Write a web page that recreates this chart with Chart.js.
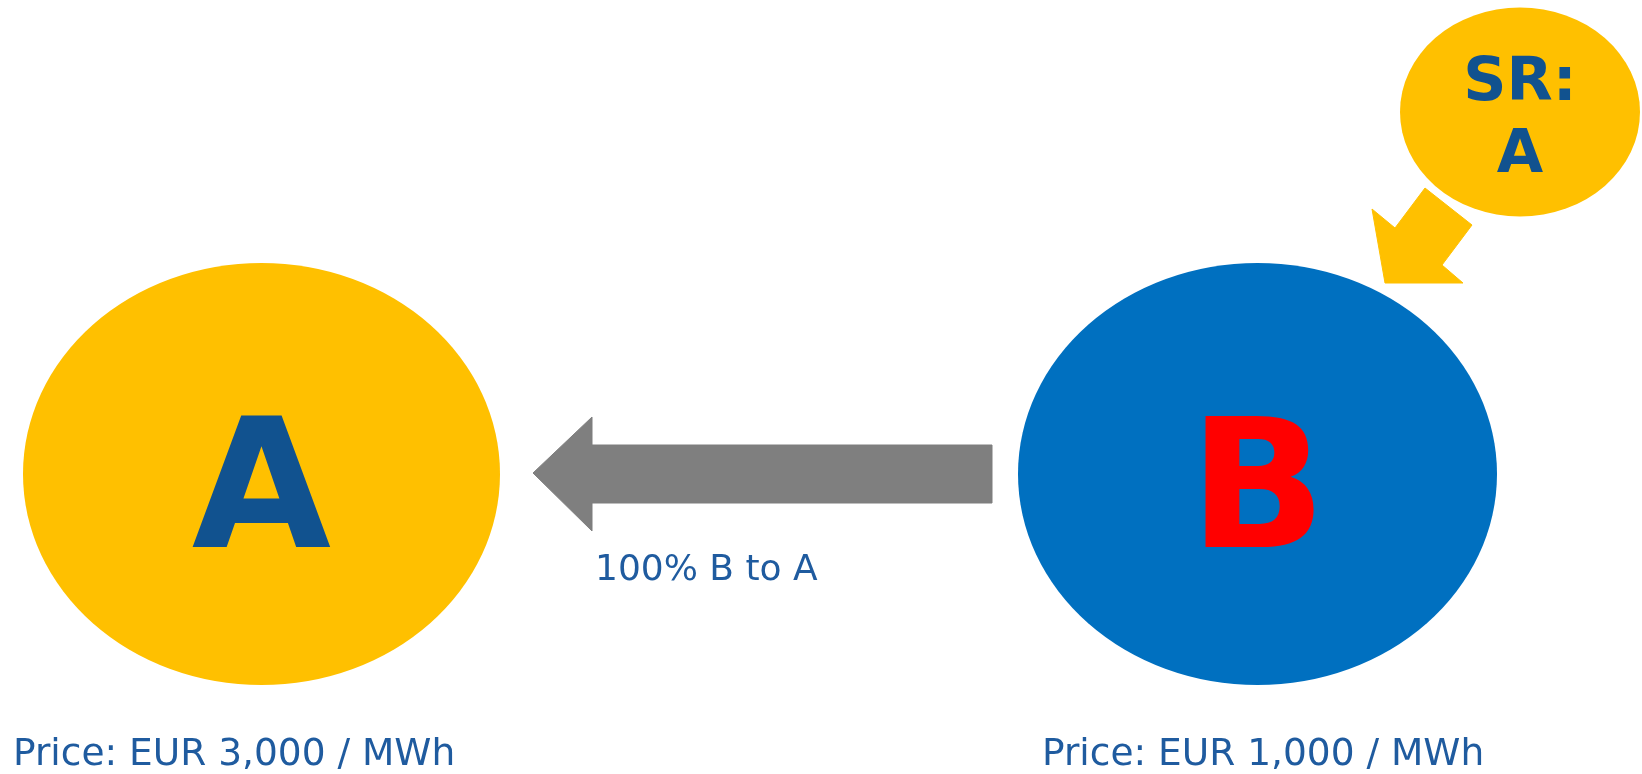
<!DOCTYPE html>
<html>
<head>
<meta charset="utf-8">
<title>SR: A</title>
<script src="https://cdn.jsdelivr.net/npm/chart.js@4.4.1/dist/chart.umd.min.js"></script>
<style>
  html, body { margin: 0; padding: 0; background: #fff; }
  #wrap { width: 1642px; height: 774px; position: relative; }
</style>
</head>
<body>
<div id="wrap"><canvas id="diagram"></canvas></div>
<script>
// zones (ellipses) in page units
const zoneNames = ['A', 'B', 'SR'];
const zoneX = [261.5, 1257.5, 1520];
const zoneY = [474, 474, 112];
const zoneRx = [238.5, 239.5, 120];
const zoneRy = [211, 211, 104.5];

// text inside the zones, one array of lines per zone
const zoneText = [['A'], ['B'], ['SR:', 'A']];
const zoneTextBase = [[547], [547], [100, 172]];

// flow arrow B -> A
const flowX = [992, 592, 592, 533, 592, 592, 992, 992];
const flowY = [445, 445, 417, 473, 531, 503, 503, 445];
const flowLabel = '100% B to A';
const flowLabelX = 595;
const flowLabelY = 580;

// arrow from the SR bubble down to B
const srArrowX = [1425, 1472, 1442, 1463, 1385, 1372, 1395, 1425];
const srArrowY = [188, 225, 265, 283, 283, 209, 228, 188];

// price labels under the zones
const priceLabels = ['Price: EUR 3,000 / MWh', 'Price: EUR 1,000 / MWh'];
const priceX = [13, 1042];
const priceY = [765, 765];

const YELLOW = '#FFC000';
const BLUE = '#0070C0';
const DARK = '#11528F';
const zoneFill = [YELLOW, BLUE, YELLOW];
const zoneTextColor = [DARK, '#FF0000', DARK];
const zoneFont = ['bold 180px "DejaVu Sans"', 'bold 180px "DejaVu Sans"', 'bold 60px "DejaVu Sans"'];

function toPoints(xs, ys) {
  return xs.map((x, i) => ({ x, y: ys[i] }));
}

const zonePlugin = {
  id: 'zones',
  beforeDatasetsDraw(chart) {
    const { ctx, scales: { x, y } } = chart;
    zoneNames.forEach((name, i) => {
      const cx = x.getPixelForValue(zoneX[i]);
      const cy = y.getPixelForValue(zoneY[i]);
      const rx = Math.abs(x.getPixelForValue(zoneX[i] + zoneRx[i]) - cx);
      const ry = Math.abs(y.getPixelForValue(zoneY[i] + zoneRy[i]) - cy);
      ctx.save();
      ctx.fillStyle = zoneFill[i];
      ctx.beginPath();
      ctx.ellipse(cx, cy, rx, ry, 0, 0, Math.PI * 2);
      ctx.fill();
      ctx.restore();
    });
  },
  afterDatasetsDraw(chart) {
    const { ctx, scales: { x, y } } = chart;
    ctx.save();
    ctx.textAlign = 'center';
    ctx.textBaseline = 'alphabetic';
    zoneText.forEach((lines, i) => {
      ctx.font = zoneFont[i];
      ctx.fillStyle = zoneTextColor[i];
      lines.forEach((line, j) => {
        ctx.fillText(line, x.getPixelForValue(zoneX[i]), y.getPixelForValue(zoneTextBase[i][j]));
      });
    });

    ctx.textAlign = 'left';
    ctx.fillStyle = '#1F5B9F';
    ctx.font = '36px "DejaVu Sans"';
    ctx.fillText(flowLabel, x.getPixelForValue(flowLabelX), y.getPixelForValue(flowLabelY));

    ctx.font = '37.5px "DejaVu Sans"';
    priceLabels.forEach((label, i) => {
      ctx.fillText(label, x.getPixelForValue(priceX[i]), y.getPixelForValue(priceY[i]));
    });
    ctx.restore();
  }
};

new Chart(document.getElementById('diagram'), {
  type: 'line',
  data: {
    datasets: [
      {
        label: 'Flow B to A',
        data: toPoints(flowX, flowY),
        borderColor: '#7F7F7F',
        backgroundColor: '#7F7F7F',
        borderWidth: 1,
        pointRadius: 0,
        tension: 0,
        fill: 'shape'
      },
      {
        label: 'SR arrow',
        data: toPoints(srArrowX, srArrowY),
        borderColor: YELLOW,
        backgroundColor: YELLOW,
        borderWidth: 1,
        pointRadius: 0,
        tension: 0,
        fill: 'shape'
      }
    ]
  },
  options: {
    responsive: true,
    maintainAspectRatio: false,
    animation: false,
    layout: { padding: 0 },
    plugins: {
      legend: { display: false },
      tooltip: { enabled: false }
    },
    scales: {
      x: { type: 'linear', min: 0, max: 1642, display: false },
      y: { type: 'linear', min: 0, max: 774, reverse: true, display: false }
    }
  },
  plugins: [zonePlugin]
});
</script>
</body>
</html>
